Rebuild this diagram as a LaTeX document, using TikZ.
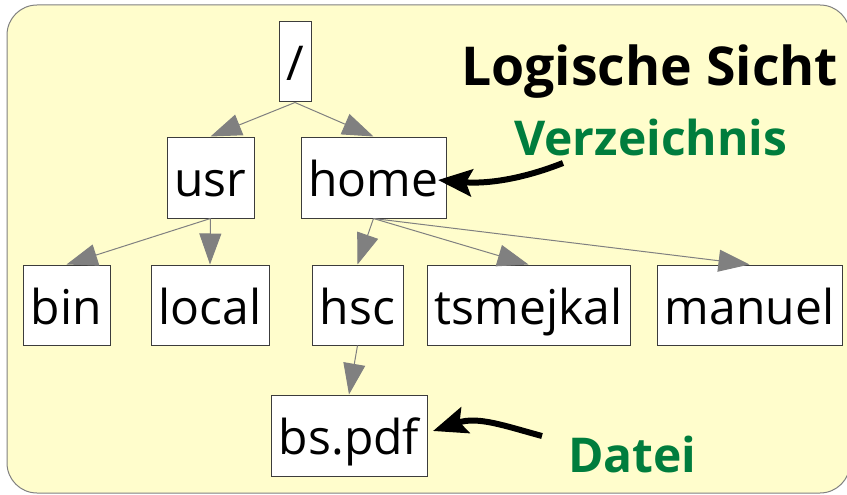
\documentclass[tikz,border=0pt]{standalone}
\usepackage{fontspec}
\setmainfont{Open Sans}
\usetikzlibrary{arrows.meta}
\definecolor{bgyellow}{RGB}{255,253,204}
\definecolor{framegray}{RGB}{128,128,128}
\definecolor{boxline}{RGB}{60,60,60}
\definecolor{edgegray}{RGB}{128,128,128}
\definecolor{labelgreen}{RGB}{0,125,61}
\tikzset{
 dirbox/.style={draw=boxline, line width=1pt, fill=white, inner sep=0pt, text height=38pt, text depth=0pt, font=\fontsize{48}{48}\selectfont},
 treeedge/.style={draw=edgegray, line width=1pt, -{Triangle[length=31pt,width=22pt]}},
 pointer/.style={draw=black, line width=6pt, -{Stealth[length=34pt,width=27pt,inset=6pt]}},
 greenlabel/.style={text=labelgreen, font=\fontsize{48}{48}\selectfont\bfseries, anchor=base west, inner sep=0pt},
 titlelabel/.style={text=black, font=\fontsize{53.6}{54}\selectfont\bfseries, anchor=base west, inner sep=0pt},
}
\begin{document}
\begin{tikzpicture}[x=1pt,y=-1pt]
\useasboundingbox (0,0) rectangle (847,495);
\draw[draw=framegray, fill=bgyellow, line width=1pt, rounded corners=30pt] (7,5) rectangle (850,493);
% tree nodes
\node[dirbox, minimum width=32pt, minimum height=80pt] (root) at (295,62) {/};
\node[dirbox, minimum width=87pt, minimum height=81pt] (usr) at (210.5,177.5) {usr};
\node[dirbox, minimum width=145pt, minimum height=81pt] (home) at (373.5,177.5) {home};
\node[dirbox, minimum width=87pt, minimum height=80pt] (bin) at (66.5,305) {bin};
\node[dirbox, minimum width=118pt, minimum height=80pt] (local) at (210,305) {local};
\node[dirbox, minimum width=91pt, minimum height=80pt] (hsc) at (357.5,305) {hsc};
\node[dirbox, minimum width=203pt, minimum height=80pt] (tsmejkal) at (528.5,305) {tsmejkal};
\node[dirbox, minimum width=185pt, minimum height=80pt] (manuel) at (749.5,305) {manuel};
\node[dirbox, minimum width=156pt, minimum height=81pt] (bspdf) at (349,435.5) {bs.pdf};
% labels
\node[titlelabel] (title) at (461,85) {Logische Sicht};
\node[greenlabel] (verz) at (514,155) {Verzeichnis};
\node[greenlabel] (datei) at (568,472) {Datei};
% tree edges
\draw[treeedge] (root.south) -- (usr.north);
\draw[treeedge] (root.south) -- (home.north);
\draw[treeedge] (usr.south) -- (bin.north);
\draw[treeedge] (usr.south) -- (local.north);
\draw[treeedge] (home.south) -- (hsc.north);
\draw[treeedge] (home.south) -- (tsmejkal.north);
\draw[treeedge] (home.south) -- (manuel.north);
\draw[treeedge] (hsc.south) -- (bspdf.north);
% pointers
\coordinate (verzstart) at (563,163);
\coordinate (homeend) at (438,180);
\draw[pointer] (verzstart) .. controls (520,180) and (485,184) .. (homeend);
\coordinate (dateistart) at (542,436);
\coordinate (bsend) at (433,431);
\draw[pointer] (dateistart) .. controls (505,426) and (478,416) .. (bsend);
\end{tikzpicture}
\end{document}
